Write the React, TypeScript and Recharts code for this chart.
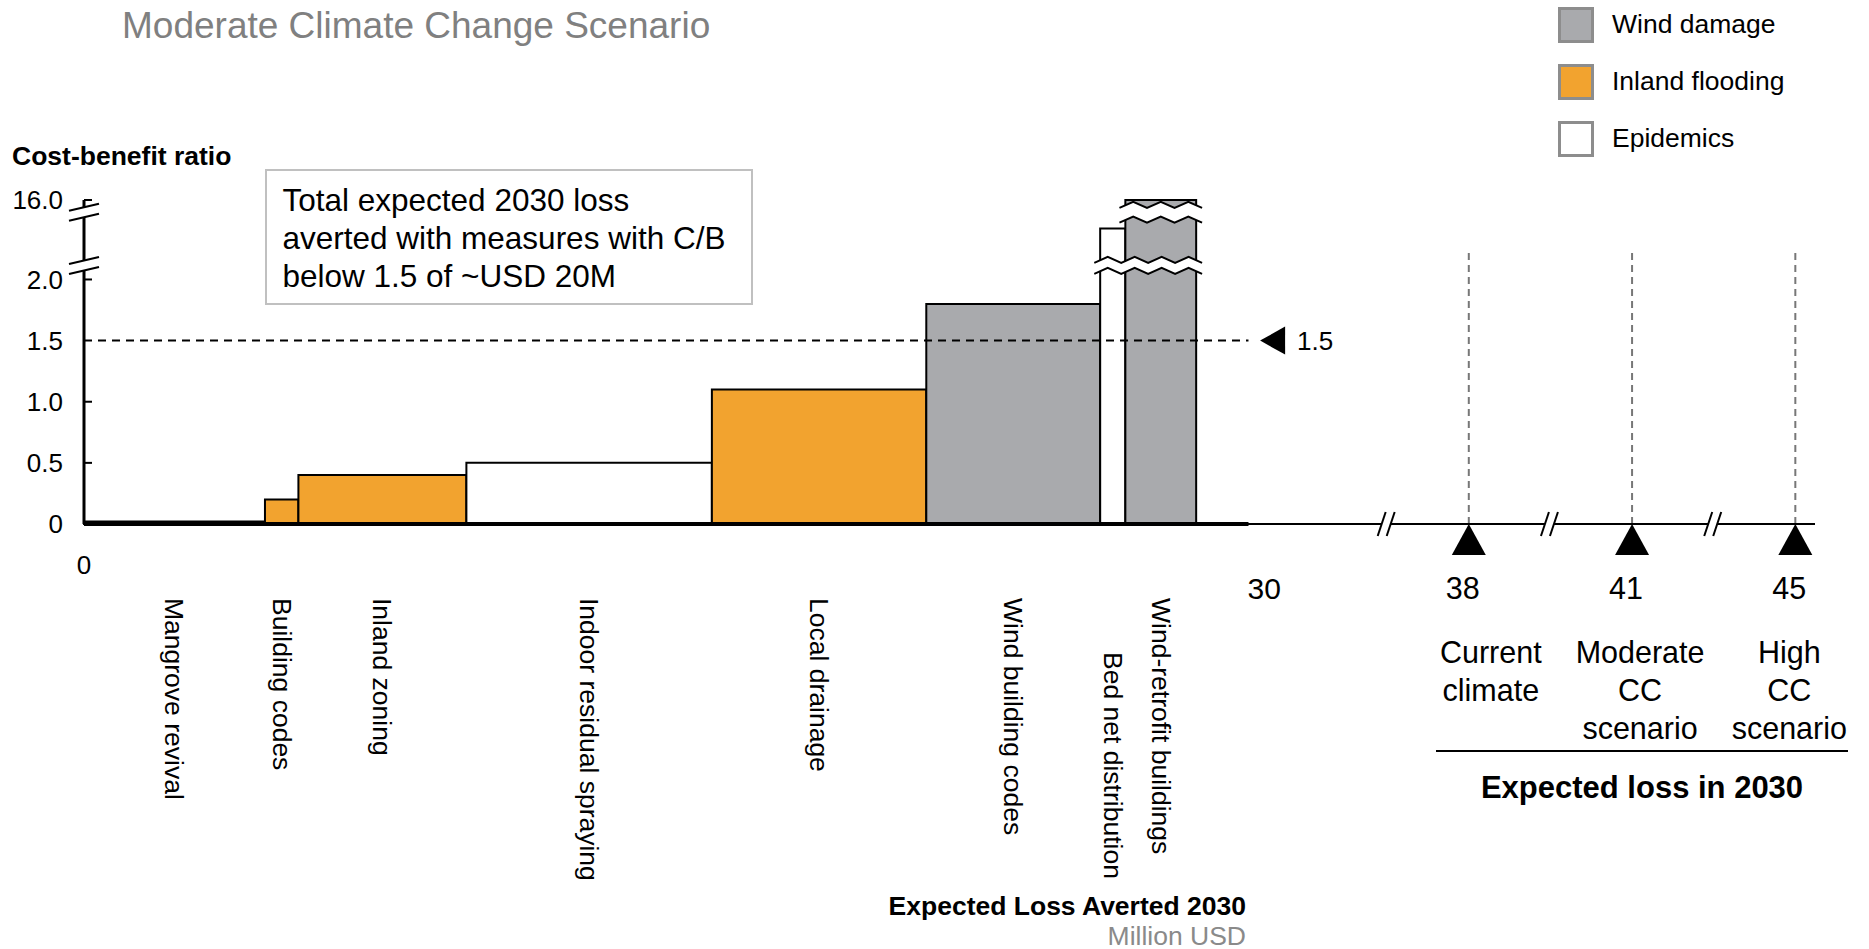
import {
  ComposedChart, XAxis, YAxis, Scatter, ReferenceArea, ReferenceLine,
  ReferenceDot, Legend,
} from 'recharts';

const FONT = '"Liberation Sans", Arial, Helvetica, sans-serif';

// measures along the cost curve, left to right
const MEASURES = [
  'Mangrove revival', 'Building codes', 'Inland zoning', 'Indoor residual spraying',
  'Local drainage', 'Wind building codes', 'Bed net distribution', 'Wind-retrofit buildings',
];
const LOSS_AVERTED = [4.6, 0.85, 4.27, 6.24, 5.45, 4.42, 0.64, 1.8]; // million USD -> bar width
const CB_RATIO = [0.02, 0.2, 0.4, 0.5, 1.1, 1.8, 11, 16];             // cost-benefit -> bar height
const MEASURE_HAZARD = ['flood', 'flood', 'flood', 'epidemic', 'flood', 'wind', 'epidemic', 'wind'];

const HAZARDS = [
  { key: 'wind', label: 'Wind damage', color: '#a9aaad' },
  { key: 'flood', label: 'Inland flooding', color: '#f2a32f' },
  { key: 'epidemic', label: 'Epidemics', color: '#ffffff' },
];

const Y_TICKS = [0, 0.5, 1, 1.5, 2, 16];
const X_TICKS = [0, 30];
const THRESHOLD = 1.5;

const EXPECTED_LOSS = [38, 41, 45];
const SCENARIOS = [['Current', 'climate'], ['Moderate', 'CC', 'scenario'], ['High', 'CC', 'scenario']];

// broken y axis: linear up to 2.0, then 2..16 squeezed into a short strip
const Y_BREAK = 2;
const Y_TOP = 2.65;
const yPos = (v: number) =>
  v <= Y_BREAK ? v : Y_BREAK + (v - Y_BREAK) / (Y_TICKS[Y_TICKS.length - 1] - Y_BREAK) * (Y_TOP - Y_BREAK);
const Y_GAPS: [number, number][] = [[2.07, 2.16], [2.49, 2.61]];

// broken x axis on the right: one slot per expected-loss marker
const X_MAX = 44;
const X_BREAK0 = 33.1;
const X_SLOT = 4.15;
const BASE_END = 29.6;
const lossPos = (i: number) => X_BREAK0 + 2.1 + X_SLOT * i;
const X_BREAKS = EXPECTED_LOSS.map((_, i) => X_BREAK0 + X_SLOT * i);

const hazardColor = (k: string) => HAZARDS.find(h => h.key === k)!.color;

const bars = MEASURES.map((name, i) => {
  const start = LOSS_AVERTED.slice(0, i).reduce((a, b) => a + b, 0);
  const end = start + LOSS_AVERTED[i];
  return { name, start, end, mid: (start + end) / 2, h: yPos(CB_RATIO[i]), color: hazardColor(MEASURE_HAZARD[i]) };
});

const gaps = Y_GAPS.map(([lo, hi]) => {
  const crossing = bars.filter(b => b.h > hi);
  return {
    y1: lo, y2: hi,
    x1: Math.min(...crossing.map(b => b.start)) - 0.15,
    x2: Math.max(...crossing.map(b => b.end)) + 0.15,
  };
});

const markerData = EXPECTED_LOSS.map((v, i) => ({ x: lossPos(i), y: 0, value: v }));

type TickInfo = { kind: 'num'; text: string } | { kind: 'measure'; i: number } | { kind: 'loss'; i: number };
const X_TICK_INFO = new Map<number, TickInfo>();
X_TICKS.forEach(v => X_TICK_INFO.set(v, { kind: 'num', text: String(v) }));
bars.forEach((b, i) => X_TICK_INFO.set(b.mid, { kind: 'measure', i }));
markerData.forEach((m, i) => X_TICK_INFO.set(m.x, { kind: 'loss', i }));
const xTicks = [...X_TICK_INFO.keys()].sort((a, b) => a - b);
const Y_TICK_POS = Y_TICKS.map(yPos);

function XTick({ x, y, payload }: any) {
  const info = X_TICK_INFO.get(payload.value);
  if (!info) return null;
  if (info.kind === 'num') {
    const first = payload.value === 0;
    return (
      <text x={x} y={y + (first ? 41 : 64)} dy="0.36em" textAnchor="middle"
        fontSize={first ? 26 : 30} fontFamily={FONT} fill="#000">{info.text}</text>
    );
  }
  if (info.kind === 'measure') {
    const b = bars[info.i];
    const next = bars[info.i + 1];
    const drop = next && next.mid - b.mid < 1.5; // crowded label moves down
    return (
      <text transform={`translate(${x},${y + (drop ? 128 : 74)}) rotate(90)`} textAnchor="start"
        dominantBaseline="central" fontSize={26.5} fontFamily={FONT} fill="#000">{b.name}</text>
    );
  }
  const m = markerData[info.i];
  // scenario captions sit a little closer together than the markers
  const dx = 8 - 14 * (info.i - 1);
  return (
    <g fontFamily={FONT} fill="#000" fontSize={30.5}>
      <text x={x - 6} y={y + 64} dy="0.36em" textAnchor="middle">{m.value}</text>
      {SCENARIOS[info.i].map((line, k) => (
        <text key={k} x={x + dx} y={y + 128 + k * 38} dy="0.36em" textAnchor="middle">{line}</text>
      ))}
    </g>
  );
}

function YTick({ x, y, payload }: any) {
  const i = Y_TICK_POS.indexOf(payload.value);
  const v = Y_TICKS[i];
  const mark = v !== 0 && v !== THRESHOLD;
  return (
    <g>
      {mark && <line x1={x} x2={x + 8} y1={y} y2={y} stroke="#000" strokeWidth={2} />}
      <text x={x - 21} y={y} dy="0.36em" textAnchor="end" fontSize={26} fontFamily={FONT} fill="#000">
        {v === 0 ? '0' : v.toFixed(1)}
      </text>
    </g>
  );
}

function GapShape({ x, y, width, height }: any) {
  const teeth = Math.max(3, Math.round(width / 26));
  const step = width / teeth / 2;
  const edge = (y0: number) =>
    Array.from({ length: teeth * 2 + 1 }, (_, i) => `${x + i * step},${y0 + (i % 2 ? -3 : 3)}`);
  const top = edge(y);
  const bottom = edge(y + height);
  return (
    <g>
      <polygon points={[...top, ...[...bottom].reverse()].join(' ')} fill="#fff" />
      <polyline points={top.join(' ')} fill="none" stroke="#000" strokeWidth={2} />
      <polyline points={bottom.join(' ')} fill="none" stroke="#000" strokeWidth={2} />
    </g>
  );
}

function YBreakMark({ cx, cy }: any) {
  const a = (dy: number) => `${cx - 15},${cy + 3.5 + dy} ${cx + 15},${cy - 3.5 + dy}`;
  return (
    <g>
      <polygon points={`${cx - 15},${cy - 1.5} ${cx + 15},${cy - 8.5} ${cx + 15},${cy + 1.5} ${cx - 15},${cy + 8.5}`} fill="#fff" />
      <polyline points={a(-5)} stroke="#000" strokeWidth={2} fill="none" />
      <polyline points={a(5)} stroke="#000" strokeWidth={2} fill="none" />
    </g>
  );
}

function XBreakMark({ cx, cy }: any) {
  const l = (dx: number) => `${cx + dx - 4},${cy + 12} ${cx + dx + 4},${cy - 12}`;
  return (
    <g>
      <polygon points={`${cx - 8.5},${cy + 12} ${cx - 0.5},${cy - 12} ${cx + 8.5},${cy - 12} ${cx + 0.5},${cy + 12}`} fill="#fff" />
      <polyline points={l(-4.5)} stroke="#000" strokeWidth={2} fill="none" />
      <polyline points={l(4.5)} stroke="#000" strokeWidth={2} fill="none" />
    </g>
  );
}

function Pointer({ cx, cy }: any) {
  return (
    <g>
      <polygon points={`${cx - 12},${cy} ${cx + 13},${cy - 14} ${cx + 13},${cy + 14}`} fill="#000" />
      <text x={cx + 25} y={cy} dy="0.36em" fontSize={26} fontFamily={FONT} fill="#000">{THRESHOLD}</text>
    </g>
  );
}

function UpTriangle({ cx, cy }: any) {
  return <polygon points={`${cx},${cy} ${cx - 17},${cy + 31} ${cx + 17},${cy + 31}`} fill="#000" />;
}

function HazardLegend() {
  return (
    <div style={{ fontFamily: FONT }}>
      {HAZARDS.map(h => (
        <div key={h.key} style={{ display: 'flex', alignItems: 'center', height: 57 }}>
          <span style={{ width: 30, height: 30, border: '3px solid #8d8d8d', background: h.color, marginRight: 18 }} />
          <span style={{ fontSize: 26.5, color: '#000' }}>{h.label}</span>
        </div>
      ))}
    </div>
  );
}

const abs = (s: React.CSSProperties): React.CSSProperties => ({ position: 'absolute', lineHeight: 1, fontFamily: FONT, whiteSpace: 'nowrap', ...s });

export default function App() {
  return (
    <div style={{ position: 'relative', width: 1869, height: 949, background: '#fff' }}>
      <style>{'body{margin:0}'}</style>
      <ComposedChart width={1869} height={949} margin={{ top: 200, right: 54, bottom: 0, left: 0 }}>
        <XAxis type="number" dataKey="x" domain={[0, X_MAX]} ticks={xTicks} interval={0}
          tick={<XTick />} tickLine={false} tickSize={0} tickMargin={0} height={425}
          axisLine={{ stroke: '#000', strokeWidth: 2 }} />
        <YAxis type="number" domain={[0, Y_TOP]} ticks={Y_TICK_POS} interval={0}
          tick={<YTick />} tickLine={false} tickSize={0} tickMargin={0} width={84}
          axisLine={{ stroke: '#000', strokeWidth: 3 }} />
        {bars.map(b => (
          <ReferenceArea key={b.name} x1={b.start} x2={b.end} y1={0} y2={b.h} fill={b.color}
            fillOpacity={1} stroke="#000" strokeWidth={2} ifOverflow="visible" />
        ))}
        {gaps.map((g, i) => (
          <ReferenceArea key={`gap${i}`} x1={g.x1} x2={g.x2} y1={g.y1} y2={g.y2}
            ifOverflow="visible" shape={<GapShape />} />
        ))}
        <ReferenceLine segment={[{ x: 0, y: 0 }, { x: BASE_END, y: 0 }]} stroke="#000" strokeWidth={4} />
        <ReferenceLine segment={[{ x: 0, y: THRESHOLD }, { x: BASE_END, y: THRESHOLD }]}
          stroke="#000" strokeWidth={2} strokeDasharray="8 6" />
        <ReferenceDot x={BASE_END + 0.6} y={THRESHOLD} ifOverflow="visible" shape={<Pointer />} />
        {Y_GAPS.map(([lo, hi], i) => (
          <ReferenceDot key={`yb${i}`} x={0} y={(lo + hi) / 2} ifOverflow="visible" shape={<YBreakMark />} />
        ))}
        {X_BREAKS.map((v, i) => (
          <ReferenceDot key={`xb${i}`} x={v} y={0} ifOverflow="visible" shape={<XBreakMark />} />
        ))}
        {markerData.map(m => (
          <ReferenceLine key={`v${m.value}`} segment={[{ x: m.x, y: 0 }, { x: m.x, y: 2.22 }]}
            stroke="#777" strokeWidth={2} strokeDasharray="7 5" />
        ))}
        <Scatter data={markerData} dataKey="y" shape={<UpTriangle />} isAnimationActive={false} />
        <Legend layout="vertical" align="center" verticalAlign="middle" content={<HazardLegend />}
          wrapperStyle={{ left: 1558, top: -4, width: 300, height: 171 }} />
      </ComposedChart>

      <div style={abs({ left: 122, top: 6.5, fontSize: 37, color: '#808080' })}>Moderate Climate Change Scenario</div>
      <div style={abs({ left: 12, top: 143, fontSize: 26.5, fontWeight: 'bold', color: '#000' })}>Cost-benefit ratio</div>
      <div style={{
        position: 'absolute', left: 265, top: 169, width: 488, height: 136, boxSizing: 'border-box',
        border: '2px solid #c0c0c0', padding: '10px 0 0 15.5px', fontFamily: FONT, fontSize: 31.5,
        lineHeight: '38px', color: '#000', background: '#fff',
      }}>
        Total expected 2030 loss<br />averted with measures with C/B<br />below 1.5 of ~USD 20M
      </div>
      <div style={{ position: 'absolute', left: 1436, top: 750, width: 412, height: 2, background: '#000' }} />
      <div style={abs({ left: 1436, width: 412, top: 771.5, textAlign: 'center', fontSize: 31, fontWeight: 'bold' })}>
        Expected loss in 2030
      </div>
      <div style={abs({ right: 623, top: 893, fontSize: 26.5, fontWeight: 'bold' })}>Expected Loss Averted 2030</div>
      <div style={abs({ right: 623, top: 923, fontSize: 26.5, color: '#8a8a8a' })}>Million USD</div>
    </div>
  );
}
